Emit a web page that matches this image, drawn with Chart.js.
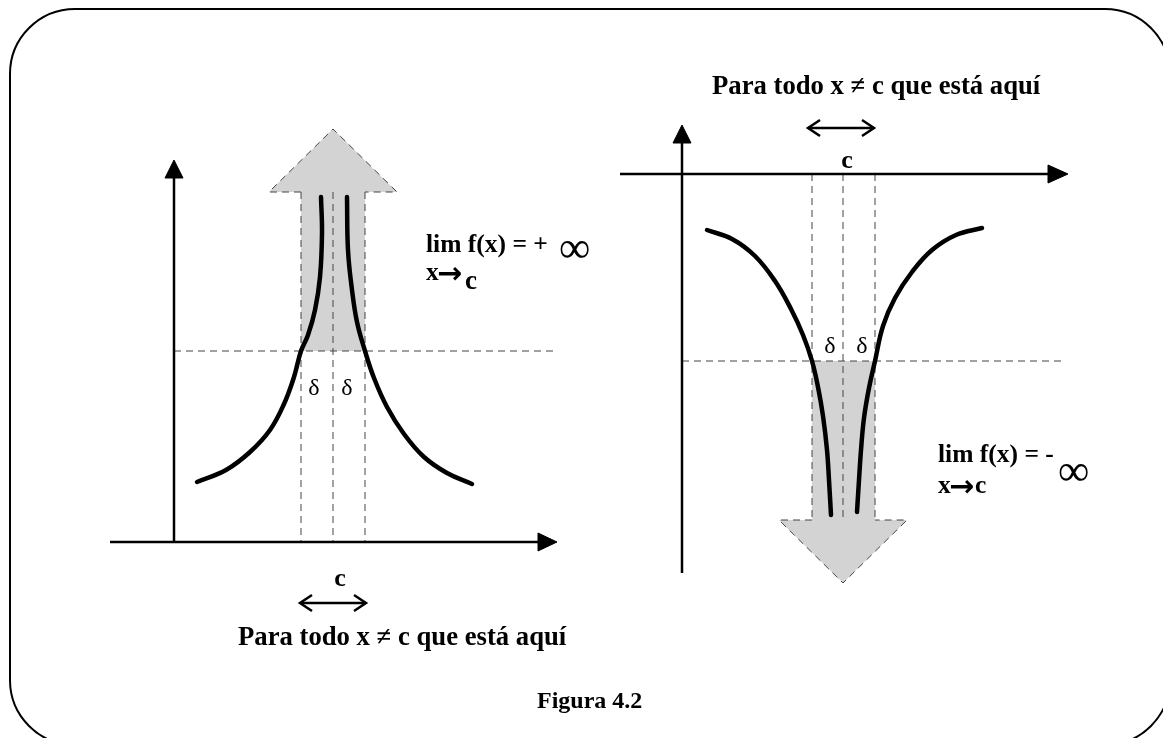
<!DOCTYPE html>
<html lang="pt-BR">
<head>
  <meta charset="UTF-8">
  <title>Figura 4.2</title>
  <style>
    body { margin: 0; background: #fff; }
    #figura { display: block; }
  </style>
</head>
<body>
  <canvas id="figura" width="1163" height="738"></canvas>

  <script src="https://cdn.jsdelivr.net/npm/chart.js"></script>
  <script>
    // pontos (x, y com y para baixo)
    // grafico da esquerda: lim = +inf
    const curvaEsqA = [[321,197],[322,233],[320,277],[315,310],[308,335],[301,351],[294,377],[284,404],[270,430],[250,452],[226,470],[197,482]];
    const curvaEsqB = [[347,197],[348,250],[352,290],[357,322],[365,351],[374,378],[387,407],[404,434],[424,457],[447,473],[472,484]];
    const setaCimaEsq = [[301,351],[301,192],[269,192],[333,129],[397,192],[365,192],[365,351],[301,351]];
    const bordaSetaEsq = [[301,192],[269,192],[333,129],[397,192],[365,192]];
    const hEsq = [[174,351],[555,351]];
    const vEsq = [301, 333, 365];
    const vEsqY = [192, 542];
    const eixoYEsq = [[174,542],[174,176]];
    const pontaYEsq = [[165,178],[174,160],[183,178],[165,178]];
    const eixoXEsq = [[110,542],[540,542]];
    const pontaXEsq = [[538,533],[557,542],[538,551],[538,533]];
    const duplaEsq = [[300,603],[366,603]];
    const duplaEsqPontas = [[[312,595],[300,603],[312,611]], [[354,595],[366,603],[354,611]]];

    // grafico da direita: lim = -inf
    const curvaDirA = [[707,230],[732,239],[755,256],[775,281],[791,309],[803,335],[812,361],[818,387],[823,416],[827,450],[829,480],[831,515]];
    const curvaDirB = [[982,228],[956,235],[932,250],[912,272],[895,298],[883,326],[875,361],[869,388],[864,418],[861,450],[859,480],[857,512]];
    const setaBaixoDir = [[812,361],[812,520],[779,520],[843,583],[907,520],[875,520],[875,361],[812,361]];
    const bordaSetaDir = [[812,520],[779,520],[843,583],[907,520],[875,520]];
    const hDir = [[682,361],[1066,361]];
    const vDir = [812, 843, 875];
    const vDirY = [174, 520];
    const eixoYDir = [[682,573],[682,142]];
    const pontaYDir = [[673,143],[682,125],[691,143],[673,143]];
    const eixoXDir = [[620,174],[1050,174]];
    const pontaXDir = [[1048,165],[1068,174],[1048,183],[1048,165]];
    const duplaDir = [[808,128],[874,128]];
    const duplaDirPontas = [[[820,120],[808,128],[820,136]], [[862,120],[874,128],[862,136]]];

    // textos
    const textos = ['Para todo x \u2260 c que está aquí', 'lim f(x) = +', 'lim f(x) = -', 'x', '\u2192', 'c', '\u221e', '\u03b4', 'Figura 4.2'];

    const pts = arr => arr.map(p => ({ x: p[0], y: p[1] }));

    const datasets = [];
    function linha(arr, cor, larg, extra) {
      datasets.push(Object.assign({
        data: pts(arr), showLine: true, borderColor: cor, borderWidth: larg,
        pointRadius: 0, fill: false, tension: 0, clip: false
      }, extra || {}));
    }
    const tracejado = { borderDash: [7, 5], order: 5 };

    // setas cinzas
    linha(setaCimaEsq, 'rgba(0,0,0,0)', 0, { fill: 'shape', backgroundColor: '#d3d3d3', order: 10 });
    linha(setaBaixoDir, 'rgba(0,0,0,0)', 0, { fill: 'shape', backgroundColor: '#d3d3d3', order: 10 });

    // tracejados
    linha(hEsq, '#444', 1, tracejado);
    linha(hDir, '#444', 1, tracejado);
    vEsq.forEach(x => linha([[x, vEsqY[0]], [x, vEsqY[1]]], '#444', 1, tracejado));
    vDir.forEach(x => linha([[x, vDirY[0]], [x, vDirY[1]]], '#444', 1, tracejado));
    linha(bordaSetaEsq, '#444', 1, tracejado);
    linha(bordaSetaDir, '#444', 1, tracejado);

    // curvas
    [curvaEsqA, curvaEsqB, curvaDirA, curvaDirB].forEach(c =>
      linha(c, '#000', 4.5, { tension: 0.4, borderCapStyle: 'round', order: 1 }));

    // eixos
    [eixoYEsq, eixoXEsq, eixoYDir, eixoXDir].forEach(e => linha(e, '#000', 2.5, { order: 0 }));
    [pontaYEsq, pontaXEsq, pontaYDir, pontaXDir].forEach(p =>
      linha(p, '#000', 1, { fill: 'shape', backgroundColor: '#000', order: 0 }));

    // setas duplas
    [duplaEsq, duplaDir].concat(duplaEsqPontas, duplaDirPontas).forEach(s =>
      linha(s, '#000', 2.5, { order: 0 }));

    // moldura e textos
    const desenhos = {
      id: 'desenhos',
      beforeDatasetsDraw(chart) {
        const { ctx, scales: { x, y } } = chart;
        const X = v => x.getPixelForValue(v), Y = v => y.getPixelForValue(v);
        ctx.save();
        ctx.strokeStyle = '#000';
        ctx.lineWidth = 2;
        ctx.beginPath();
        ctx.roundRect(X(10), Y(9), X(1170) - X(10), Y(745) - Y(9), 65);
        ctx.stroke();
        ctx.restore();
      },
      afterDatasetsDraw(chart) {
        const { ctx, scales: { x, y } } = chart;
        const X = v => x.getPixelForValue(v), Y = v => y.getPixelForValue(v);
        const serif = '"Liberation Serif", "Times New Roman", serif';
        const sans = '"DejaVu Sans", sans-serif';
        function txt(t, px, py, fonte, alinhar) {
          ctx.font = fonte;
          ctx.textAlign = alinhar || 'left';
          ctx.textBaseline = 'alphabetic';
          ctx.fillStyle = '#000';
          ctx.fillText(t, X(px), Y(py));
        }
        ctx.save();
        txt(textos[0], 238, 645, 'bold 26.7px ' + serif);
        txt(textos[0], 712, 94, 'bold 26.7px ' + serif);

        txt(textos[1], 426, 252, 'bold 25.5px ' + serif);
        txt(textos[3], 426, 280, 'bold 25.5px ' + serif);
        txt(textos[4], 437, 283, 'bold 30px ' + sans);
        txt(textos[5], 465, 289, 'bold 27px ' + serif);
        txt(textos[6], 559, 262, '44px ' + serif);

        txt(textos[2], 938, 462, 'bold 25.5px ' + serif);
        txt(textos[3], 938, 493, 'bold 25.5px ' + serif);
        txt(textos[4], 949, 496, 'bold 30px ' + sans);
        txt(textos[5], 975, 493, 'bold 25.5px ' + serif);
        txt(textos[6], 1058, 485, '44px ' + serif);

        txt(textos[5], 340, 586, 'bold 26px ' + serif, 'center');
        txt(textos[5], 847, 168, 'bold 26px ' + serif, 'center');
        txt(textos[7], 314, 395, '24px ' + serif, 'center');
        txt(textos[7], 347, 395, '24px ' + serif, 'center');
        txt(textos[7], 830, 353, '24px ' + serif, 'center');
        txt(textos[7], 862, 353, '24px ' + serif, 'center');
        txt(textos[8], 537, 708, 'bold 24px ' + serif);
        ctx.restore();
      }
    };

    new Chart(document.getElementById('figura').getContext('2d'), {
      type: 'scatter',
      data: { datasets: datasets },
      options: {
        responsive: false,
        animation: false,
        layout: { padding: 0 },
        plugins: { legend: { display: false }, tooltip: { enabled: false } },
        scales: {
          x: { type: 'linear', min: 0, max: 1163, display: false },
          y: { type: 'linear', min: 0, max: 738, reverse: true, display: false }
        }
      },
      plugins: [desenhos]
    });
  </script>
</body>
</html>
